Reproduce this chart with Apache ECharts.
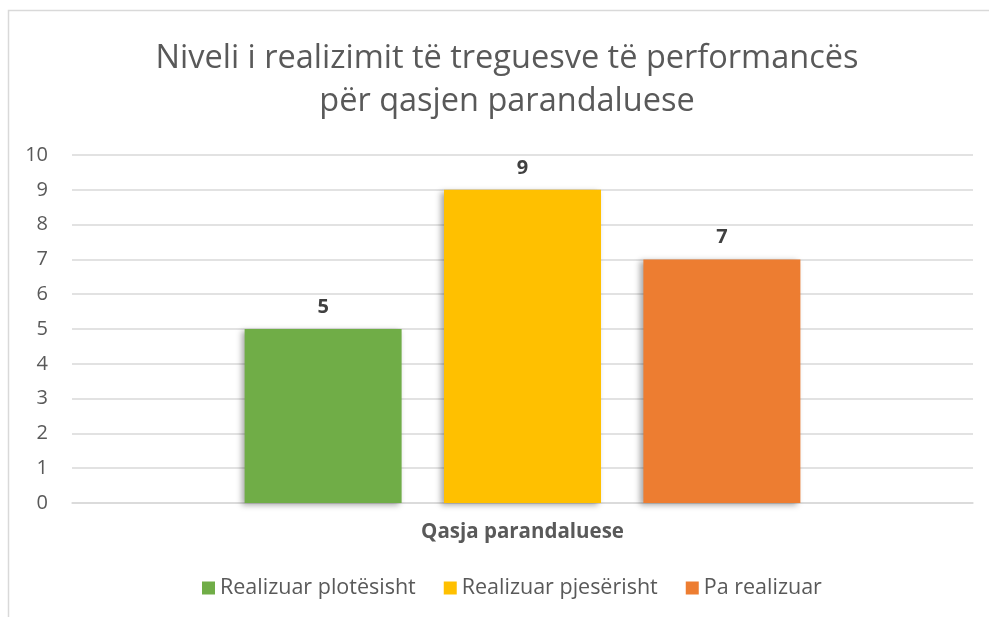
<!DOCTYPE html>
<html style="height: 100%">
<head>
    <meta charset="utf-8">
    <script type="text/javascript" src="https://cdn.jsdelivr.net/npm/echarts@6/dist/echarts.min.js"></script>
    <title>Niveli i realizimit</title>
</head>
<body style="height: 100%; margin: 0; background: #fff">
<div id="container" style="width: 989px; height: 617px"></div>
<script type="text/javascript">
    let categories = ['Qasja parandaluese'];
    let seriesNames = ['Realizuar plotësisht', 'Realizuar pjesërisht', 'Pa realizuar'];
    let seriesValues = [[5], [9], [7]];
    let colors = ['#70ad47', '#ffc000', '#ed7d31'];

    let dom = document.getElementById('container');
    let myChart = echarts.init(dom);
    let font = 'Open Sans';

    let series = seriesNames.map(function (name, i) {
        return {
            name: name,
            type: 'bar',
            data: seriesValues[i],
            barWidth: 157,
            barGap: '27%',
            itemStyle: {
                color: colors[i],
                shadowColor: 'rgba(0,0,0,0.35)',
                shadowBlur: 6,
                shadowOffsetX: -3,
                shadowOffsetY: 2
            },
            label: {
                show: true,
                position: 'top',
                distance: 12,
                fontFamily: font,
                fontWeight: 'bold',
                fontSize: 20,
                color: '#404040'
            }
        };
    });

    let option = {
        animation: false,
        color: colors,
        title: {
            text: 'Niveli i realizimit të treguesve të performancës\npër qasjen parandaluese',
            left: 502,
            top: 32,
            textAlign: 'center',
            textStyle: {
                fontFamily: font,
                fontWeight: 'normal',
                fontSize: 32.5,
                lineHeight: 43,
                color: '#595959'
            }
        },
        graphic: [{
            type: 'rect',
            shape: { x: 8.5, y: 10.5, width: 1000, height: 700 },
            style: { fill: 'none', stroke: '#d9d9d9', lineWidth: 1.5 },
            silent: true
        }],
        legend: {
            data: seriesNames,
            left: 197,
            top: 572,
            itemWidth: 13,
            itemHeight: 13,
            itemGap: 28,
            icon: 'rect',
            textStyle: {
                fontFamily: font,
                fontSize: 21.5,
                color: '#595959'
            }
        },
        grid: {
            left: 72,
            right: 16,
            top: 155,
            bottom: 114,
            containLabel: false
        },
        xAxis: {
            type: 'category',
            data: categories,
            axisLine: { lineStyle: { color: '#d9d9d9', width: 1.5 } },
            axisTick: { show: false },
            axisLabel: {
                margin: 19,
                fontFamily: font,
                fontWeight: 'bold',
                fontSize: 20.5,
                color: '#595959'
            }
        },
        yAxis: {
            type: 'value',
            min: 0,
            max: 10,
            interval: 1,
            axisLine: { show: false },
            axisTick: { show: false },
            axisLabel: {
                margin: 24,
                fontFamily: font,
                fontSize: 20,
                color: '#595959'
            },
            splitLine: { lineStyle: { color: '#d9d9d9', width: 1.5 } }
        },
        series: series
    };
    myChart.setOption(option);
</script>
</body>
</html>
